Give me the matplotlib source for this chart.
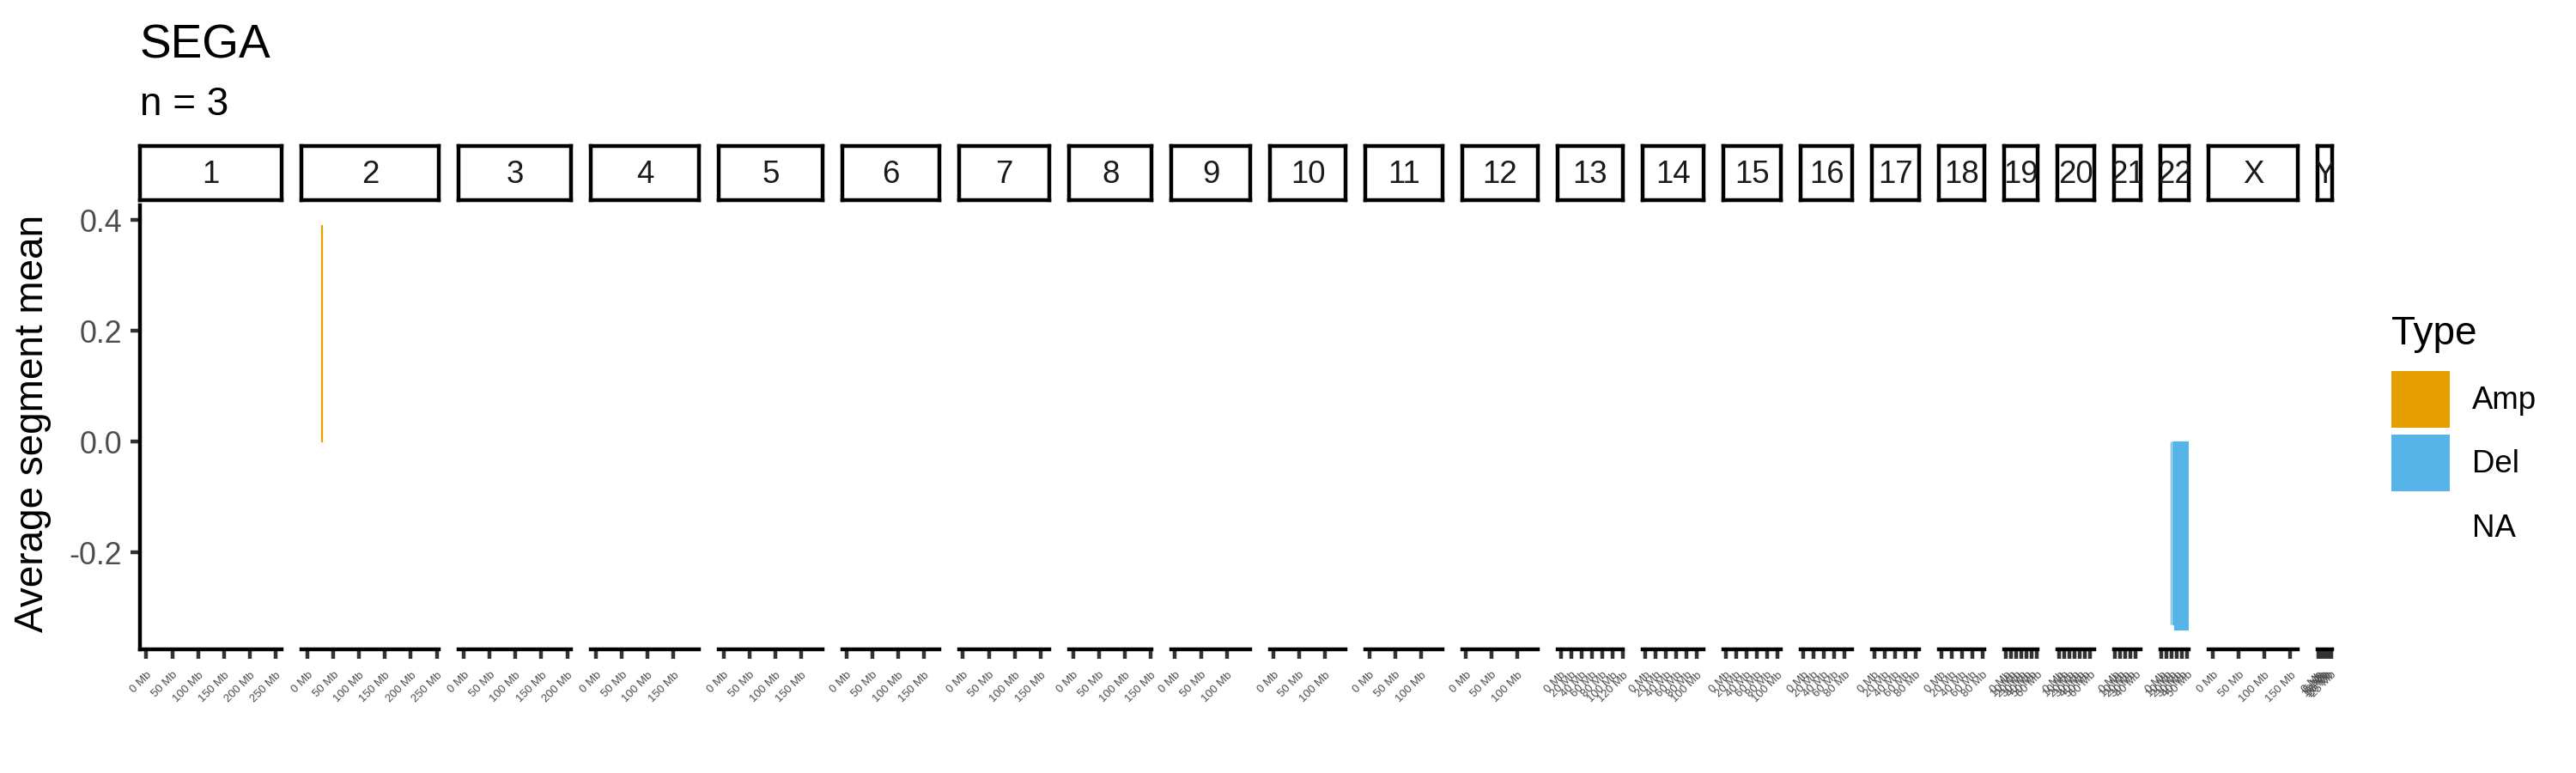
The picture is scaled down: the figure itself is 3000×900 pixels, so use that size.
import matplotlib
matplotlib.use("Agg")
import matplotlib.pyplot as plt
from matplotlib.patches import Patch

plt.rcParams["font.family"] = ["Liberation Sans", "DejaVu Sans"]

# chromosome panels (x range in Mb per panel)
chroms = ["1", "2", "3", "4", "5", "6", "7", "8", "9", "10", "11", "12",
          "13", "14", "15", "16", "17", "18", "19", "20", "21", "22", "X", "Y"]
chrom_len_mb = [248.96, 242.19, 198.30, 190.21, 181.54, 170.81, 159.35, 145.14,
                138.39, 133.80, 135.09, 133.28, 114.36, 107.04, 101.99, 90.34,
                83.26, 80.37, 58.62, 64.44, 46.71, 50.82, 156.04, 26.0]
tick_step_mb = [50] * 12 + [20] * 6 + [10] * 4 + [50, 5]

# segments
seg_chrom = ["2", "22", "22", "22"]
seg_start_mb = [26.0, 17.7, 21.2, 24.0]
seg_end_mb = [27.6, 18.4, 21.9, 50.8]
seg_mean = [0.39, -0.33, -0.33, -0.338]
seg_type = ["Amp", "Del", "Del", "Del"]

type_colors = {"Amp": "#E69F00", "Del": "#56B4E9"}
y_ticks = [-0.2, 0.0, 0.2, 0.4]

W, H = 3000, 900
fig = plt.figure(figsize=(10, 3), dpi=300)

# layout (pixels)
left_px, right_px, gap_px = 163, 2716, 23
top_px, bot_px = 239, 756
strip_top, strip_bot = 170, 233

lw = 1.07
ymin = min(seg_mean + [0]); ymax = max(seg_mean + [0])
span = ymax - ymin
ylim = (ymin - 0.05 * span, ymax + 0.05 * span)

tot_len = sum(L * 1.1 for L in chrom_len_mb)
avail = (right_px - left_px) - gap_px * (len(chroms) - 1)
x = left_px
for i, (ch, L) in enumerate(zip(chroms, chrom_len_mb)):
    wpx = avail * L * 1.1 / tot_len
    ax = fig.add_axes([x / W, 1 - bot_px / H, wpx / W, (bot_px - top_px) / H])
    ax.set_xlim(-0.05 * L, L * 1.05)
    ax.set_ylim(*ylim)
    for sp in ["top", "right"]:
        ax.spines[sp].set_visible(False)
    ax.spines["bottom"].set_linewidth(lw)
    ax.spines["left"].set_linewidth(lw)
    step = tick_step_mb[i]
    ticks = [t for t in range(0, int(L * 1.05) + 1, step)]
    ax.set_xticks(ticks)
    ax.set_xticklabels([f"{t} Mb" for t in ticks], rotation=45, ha="right",
                       va="top", rotation_mode="anchor", fontsize=3.2, color="#4D4D4D")
    ax.tick_params(axis="x", length=2.75, width=lw, color="#333333", pad=3)
    if i == 0:
        ax.set_yticks(y_ticks)
        ax.set_yticklabels([f"{v:.1f}" for v in y_ticks], fontsize=8.6, color="#4D4D4D")
        ax.tick_params(axis="y", length=2.75, width=lw, color="#333333", pad=2.2)
    else:
        ax.spines["left"].set_visible(False)
        ax.set_yticks([])
    for c, s, e, m, t in zip(seg_chrom, seg_start_mb, seg_end_mb, seg_mean, seg_type):
        if c == ch:
            ax.bar(s, m, width=e - s, align="edge", color=type_colors[t],
                   edgecolor=type_colors[t], linewidth=0.3)

    # strip
    sax = fig.add_axes([x / W, 1 - strip_bot / H, wpx / W, (strip_bot - strip_top) / H])
    sax.set_xticks([]); sax.set_yticks([])
    for sp in sax.spines.values():
        sp.set_linewidth(lw)
        sp.set_color("black")
    sax.text(0.5, 0.47, ch, transform=sax.transAxes, ha="center", va="center",
             fontsize=8.8, color="#1A1A1A", clip_on=True)
    x += wpx + gap_px

fig.text(163 / W, 1 - 67 / H, "SEGA", fontsize=13.2, va="baseline", ha="left")
fig.text(163 / W, 1 - 134 / H, "n = 3", fontsize=11, va="baseline", ha="left")
fig.text(38 / W, 1 - 493 / H, "Average segment mean", fontsize=11, rotation=90,
         ha="center", va="center")

handles = [Patch(facecolor=type_colors["Amp"], edgecolor="none"),
           Patch(facecolor=type_colors["Del"], edgecolor="none"),
           Patch(facecolor="none", edgecolor="none")]
leg = fig.legend(handles, ["Amp", "Del", "NA"], title="Type", loc="upper left",
                 bbox_to_anchor=(2785 / W, 1 - 367 / H), frameon=False,
                 fontsize=8.8, title_fontsize=11, handlelength=1.85, handleheight=2.4,
                 labelspacing=0.22, handletextpad=0.7, borderpad=0, borderaxespad=0)
leg._legend_box.align = "left"
leg._legend_box.sep = 5

fig.savefig("out.png", dpi=300)
